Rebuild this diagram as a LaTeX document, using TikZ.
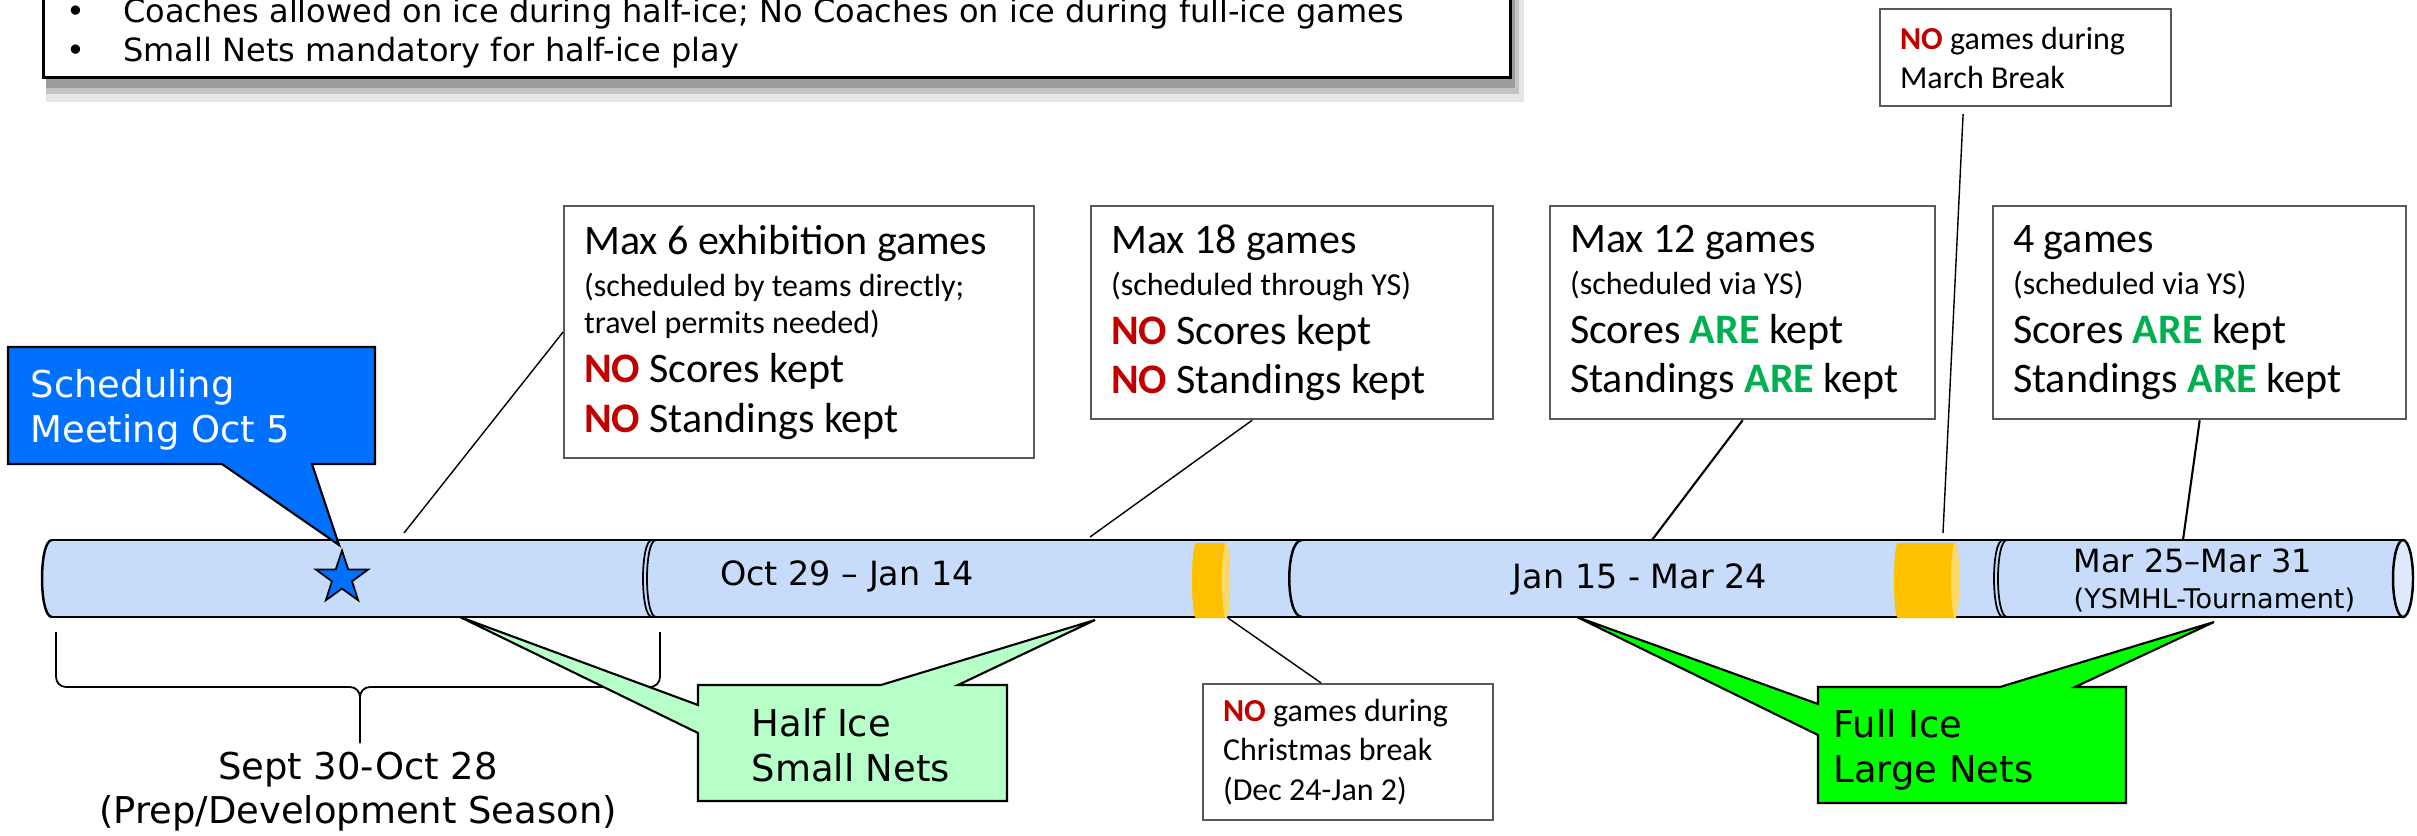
\documentclass[tikz,border=0pt]{standalone}
\usepackage{fontspec}
\setmainfont{DejaVu Sans}
\newfontfamily\calfont{Carlito}
\usetikzlibrary{shapes.geometric}

\definecolor{barblue}{RGB}{199,220,250}
\definecolor{barend}{RGB}{222,234,252}
\definecolor{bandorange}{RGB}{255,192,0}
\definecolor{bandlight}{RGB}{255,217,102}
\definecolor{mtgblue}{RGB}{0,112,255}
\definecolor{nored}{RGB}{192,0,0}
\definecolor{aregreen}{RGB}{0,176,80}
\definecolor{halfgreen}{RGB}{183,255,200}
\definecolor{fullgreen}{RGB}{0,255,0}

\newcommand{\bigtxt}{\fontsize{11.95}{14}\selectfont}
\newcommand{\smalltxt}{\fontsize{9.1}{11.1}\selectfont}
\newcommand{\NO}{\textcolor{nored}{\bfseries NO}}
\newcommand{\ARE}{\textcolor{aregreen}{\bfseries ARE}}

\begin{document}
\begin{tikzpicture}[x=0.01cm, y=-0.01cm,
    infobox/.style={draw=gray!70!black, line width=0.6pt, fill=white, anchor=north west,
        align=flush left, inner xsep=0.2cm, inner ysep=0pt, font=\calfont\bigtxt},
    notebox/.style={infobox, font=\calfont\smalltxt},
    pointer/.style={line width=0.4pt},
    barline/.style={line width=0.7pt},
    callout/.style={draw=black, line width=0.6pt},
    calltext/.style={anchor=west, align=left, inner sep=0pt, font=\fontsize{10.5}{12.7}\selectfont},
    barlabel/.style={font=\fontsize{9.5}{11}\selectfont}]

    \useasboundingbox (0,0) rectangle (2417,836);

    % Rules box with its shadow
    \fill[black, opacity=0.10] (46,-60) rectangle (1524,102);
    \fill[black, opacity=0.15] (46,-60) rectangle (1519,94);
    \fill[black, opacity=0.20] (46,-60) rectangle (1515,88);
    \node[draw, line width=0.8pt, fill=white, anchor=south west, text width=14.2cm,
        inner xsep=0.23cm, inner ysep=0.09cm, align=flush left,
        font=\fontsize{9.1}{11.1}\selectfont] (rules) at (42,79)
        {\makebox[0.57cm][l]{\textbullet}Coaches allowed on ice during half-ice; No Coaches on ice during full-ice games\\
         \makebox[0.57cm][l]{\textbullet}Small Nets mandatory for half-ice play};

    % Timeline bar
    \fill[barblue] (52,540) -- (2403,540) -- (2403,617) -- (52,617) .. controls (38.7,617) and (38.7,540) .. cycle;
    \draw[barline] (52,540) .. controls (38.7,540) and (38.7,617) .. (52,617);
    \draw[barline] (52,540) -- (2403,540) (52,617) -- (2403,617);
    \draw[barline, fill=barend] (2403,578.5) ellipse [x radius=10, y radius=38.5];

    % Segment joints
    \draw[line width=0.5pt] (652,540) .. controls (640,540) and (640,617) .. (652,617);
    \draw[line width=0.5pt] (656,540) .. controls (644,540) and (644,617) .. (656,617);
    \draw[barline] (1302,540) .. controls (1285,540) and (1285,617) .. (1302,617);
    \draw[line width=0.5pt] (2003,540) .. controls (1991,540) and (1991,617) .. (2003,617);
    \draw[line width=0.5pt] (2007,540) .. controls (1995,540) and (1995,617) .. (2007,617);

    % Breaks
    \fill[bandorange] (1196,543) -- (1226,543) .. controls (1231.3,543) and (1231.3,618) .. (1226,618)
        -- (1196,618) .. controls (1190.7,618) and (1190.7,543) .. cycle;
    \fill[bandlight] (1226,580.5) ellipse [x radius=4, y radius=37.5];
    \fill[bandorange] (1898,543) -- (1955,543) .. controls (1960.3,543) and (1960.3,618) .. (1955,618)
        -- (1898,618) .. controls (1892.7,618) and (1892.7,543) .. cycle;
    \fill[bandlight] (1955,580.5) ellipse [x radius=4, y radius=37.5];

    % Bar labels
    \node[barlabel] (octjan) at (847,576) {Oct 29 – Jan 14};
    \node[barlabel] (janmar) at (1640,579) {Jan 15 - Mar 24};
    \node[anchor=west, align=left, inner sep=0pt, font=\fontsize{9.1}{10.2}\selectfont] (tourney) at (2073,580)
        {Mar 25–Mar 31\\{\fontsize{7.7}{9}\selectfont (YSMHL-Tournament)}};

    % Meeting
    \node[star, star points=5, star point ratio=2.6, minimum size=0.55cm, inner sep=0pt,
        fill=mtgblue, draw=black, line width=0.5pt] (mtgstar) at (342,578) {};
    \filldraw[callout, fill=mtgblue] (8,347) -- (375,347) -- (375,464) -- (312,464) -- (339,545)
        -- (222,464) -- (8,464) -- cycle;
    \node[calltext, text=white] (mtg) at (30,410) {Scheduling\\Meeting Oct 5};

    % Info boxes
    \node[infobox, text width=4.3cm, minimum height=2.52cm] (exh) at (563,205)
        {Max 6 exhibition games\\[-2pt]
         {\smalltxt (scheduled by teams directly;}\\[-3.4pt]
         {\smalltxt travel permits needed)}\\
         \NO{} Scores kept\\
         \NO{} Standings kept};
    \node[infobox, text width=3.62cm, minimum height=2.13cm] (thru) at (1090,205)
        {Max 18 games\\[-2pt]
         {\smalltxt (scheduled through YS)}\\
         \NO{} Scores kept\\
         \NO{} Standings kept};
    \node[infobox, text width=3.45cm, minimum height=2.13cm] (via) at (1549,205)
        {Max 12 games\\[-2pt]
         {\smalltxt (scheduled via YS)}\\
         Scores \ARE{} kept\\
         Standings \ARE{} kept};
    \node[infobox, text width=3.73cm, minimum height=2.13cm] (final) at (1992,205)
        {4 games\\[-2pt]
         {\smalltxt (scheduled via YS)}\\
         Scores \ARE{} kept\\
         Standings \ARE{} kept};
    \node[notebox, text width=2.51cm, minimum height=0.97cm] (march) at (1879,8)
        {\NO{} games during\\March Break};
    \node[notebox, text width=2.5cm, minimum height=1.36cm] (xmas) at (1202,683)
        {\NO{} games during\\Christmas break\\(Dec 24-Jan 2)};

    % Pointers to the bar
    \coordinate (exhpt) at (404,533);
    \coordinate (thrupt) at (1090,537);
    \coordinate (viapt) at (1652,540);
    \coordinate (finalpt) at (2183,540);
    \coordinate (marchpt) at (1943,533);
    \coordinate (xmaspt) at (1228,618);
    \draw[pointer] (exh.west) -- (exhpt);
    \draw[pointer] ([xshift=-0.4cm]thru.south) -- (thrupt);
    \draw[line width=0.6pt] (via.south) -- (viapt);
    \draw[line width=0.6pt] (final.south) -- (finalpt);
    \draw[pointer] ([xshift=-0.625cm, yshift=-0.07cm]march.south) -- (marchpt);
    \draw[pointer] ([xshift=-0.27cm]xmas.north) -- (xmaspt);

    % Prep season brace
    \draw[line width=0.5pt, rounded corners=0.1cm] (56,632) |- (360,687) -- (360,743);
    \draw[line width=0.5pt, rounded corners=0.1cm] (660,632) |- (360,687) -- (360,743);
    \node[align=center, font=\fontsize{10.5}{12.5}\selectfont] (prep) at (358,792)
        {Sept 30-Oct 28\\(Prep/Development Season)};

    % Ice callouts
    \filldraw[callout, fill=halfgreen] (698,685) -- (881,685) -- (1095,620) -- (958,685) -- (1007,685)
        -- (1007,801) -- (698,801) -- (698,733) -- (460,617) -- (698,705) -- cycle;
    \node[calltext] (half) at (751,745) {Half Ice\\Small Nets};
    \filldraw[callout, fill=fullgreen] (1818,687) -- (2000,687) -- (2214,622) -- (2075,687) -- (2126,687)
        -- (2126,803) -- (1818,803) -- (1818,735) -- (1577,617) -- (1818,704) -- cycle;
    \node[calltext] (full) at (1833,750) {Full Ice\\Large Nets};
\end{tikzpicture}
\end{document}
